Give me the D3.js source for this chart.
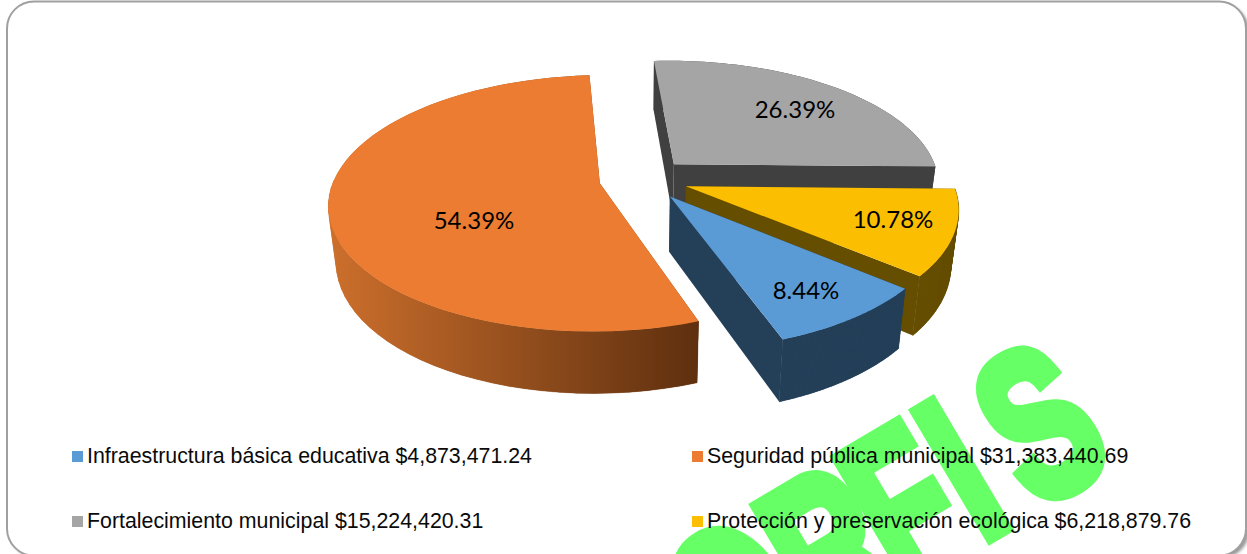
<!DOCTYPE html>
<html>
<head>
<meta charset="utf-8">
<script src="https://cdnjs.cloudflare.com/ajax/libs/d3/7.8.5/d3.min.js"></script>
<style>
  html, body { margin: 0; padding: 0; background: #fff; overflow: hidden; }
  svg { display: block; }
</style>
</head>
<body>
<script>
const categories = ['Infraestructura básica educativa', 'Seguridad pública municipal', 'Fortalecimiento municipal', 'Protección y preservación ecológica']
const amounts = ['$4,873,471.24', '$31,383,440.69', '$15,224,420.31', '$6,218,879.76']
const shares = [8.44, 54.39, 26.39, 10.78]
const topColors = ['#5b9bd5', '#eb7c31', '#a5a5a5', '#fbbe00']
const wallColors = ['#243f58', 'url(#rim)', '#404040', '#654e00']

const width = 1247
const height = 554

const svg = d3.select('body')
.append('svg')
.attr('width', width)
.attr('height', height)

const defs = svg.append('defs')
const grad = defs.append('linearGradient')
.attr('id', 'rim')
.attr('gradientUnits', 'userSpaceOnUse')
.attr('x1', 330).attr('x2', 696).attr('y1', 0).attr('y2', 0)
grad.append('stop').attr('offset', 0).attr('stop-color', '#cc6f2c')
grad.append('stop').attr('offset', 1).attr('stop-color', '#5f300f')

defs.append('filter').attr('id', 'soft')
.append('feGaussianBlur').attr('stdDeviation', 1.5)

// frame with its small shadow
svg.append('rect')
.attr('x', 10).attr('y', 4)
.attr('width', 1239).attr('height', 554)
.attr('rx', 27)
.attr('fill', '#999')
.attr('filter', 'url(#soft)')

svg.append('rect')
.attr('x', 7).attr('y', 1.5)
.attr('width', 1239).attr('height', 554)
.attr('rx', 27)
.attr('fill', '#fff')
.attr('stroke', '#a0a0a0')
.attr('stroke-width', 2)

// watermark sits behind the legend
svg.append('text')
.attr('transform', 'translate(660,732) rotate(-30.6) scale(0.68,1)')
.attr('font-family', 'Liberation Sans')
.attr('font-weight', 'bold')
.attr('font-size', 210)
.attr('dx', '112 0 -13 6 35')
.attr('fill', '#66ff66')
.attr('stroke', '#66ff66')
.attr('stroke-width', 14)
.text('ORFIS')

// disk plane -> screen, camera looks down so the front of the pie is larger
const xscale = d3.scaleLinear().domain([0, 1]).range([640, 907])
const yscale = d3.scaleLinear().domain([0, 1]).range([183, 308])
const persp = 0.156
const explode = 0.168
const center = [0.014, -0.032]

function project(wx, wy) {
    const s = 1 / (1 - persp * wy)
    return [xscale(wx * s), yscale(wy * s)]
}

// bottom of the wall under a top point
function drop(p) {
    return [640 + (p[0] - 640) * 0.975, p[1] * 1.048 + 46]
}

const pie = d3.pie().sort(null)
.startAngle(129.9 * Math.PI / 180)
.endAngle((129.9 + 360) * Math.PI / 180)

const slices = pie(shares).map((d) => {
    const mid = (d.startAngle + d.endAngle) / 2
    const ox = center[0] + explode * Math.sin(mid)
    const oy = center[1] - explode * Math.cos(mid)
    const arc = d3.range(0, 61).map((k) => {
        const a = d.startAngle + (d.endAngle - d.startAngle) * k / 60
        return project(ox + Math.sin(a), oy - Math.cos(a))
    })
    return {i: d.index, apex: project(ox, oy), arc: arc}
})

const line = d3.line()
const order = [2, 3, 0, 1]
const g = svg.append('g')

order.forEach((i) => {
    const s = slices[i]
    const first = s.arc[0]
    const last = s.arc[s.arc.length - 1]
    const walls = [
      [s.apex, first, drop(first), drop(s.apex)],
      [s.apex, last, drop(last), drop(s.apex)],
      s.arc.concat(s.arc.map(drop).reverse())
    ]
    g.selectAll(null)
    .data(walls)
    .join('path')
    .attr('d', (d) => line(d) + 'Z')
    .attr('fill', wallColors[i])

    // quads along the front rim fill the silhouette where the bottom ring pulls inward
    g.selectAll(null)
    .data(d3.pairs(s.arc).filter((d) => d[0][1] > s.apex[1]))
    .join('path')
    .attr('d', (d) => line([d[0], d[1], drop(d[1]), drop(d[0])]) + 'Z')
    .attr('fill', wallColors[i])
    .attr('stroke', wallColors[i])
    .attr('stroke-width', 0.4)

    g.append('path')
    .attr('d', line([s.apex].concat(s.arc)) + 'Z')
    .attr('fill', topColors[i])
})

// data labels
const labelPos = [[806, 299], [474, 229], [795, 118], [893, 228]]
svg.selectAll('text.pct')
.data(shares)
.join('text')
.attr('class', 'pct')
.attr('x', (d, i) => labelPos[i][0])
.attr('y', (d, i) => labelPos[i][1])
.attr('text-anchor', 'middle')
.attr('font-family', 'Lato')
.attr('font-size', 24)
.attr('fill', '#000')
.text((d) => d.toFixed(2) + '%')

// legend
const legendX = [72, 692]
const legendY = [456, 521]
const legend = svg.selectAll('g.legend')
.data(categories)
.join('g')
.attr('class', 'legend')
.attr('transform', (d, i) => `translate(${legendX[i % 2]},${legendY[Math.floor(i / 2)]})`)

legend.append('rect')
.attr('x', 0).attr('y', -5)
.attr('width', 11).attr('height', 11)
.attr('fill', (d, i) => topColors[i])

legend.append('text')
.attr('x', 15).attr('y', 7)
.attr('font-family', 'Liberation Sans')
.attr('font-size', 21.35)
.attr('fill', '#0a0a0a')
.text((d, i) => d + ' ' + amounts[i])
</script>
</body>
</html>
